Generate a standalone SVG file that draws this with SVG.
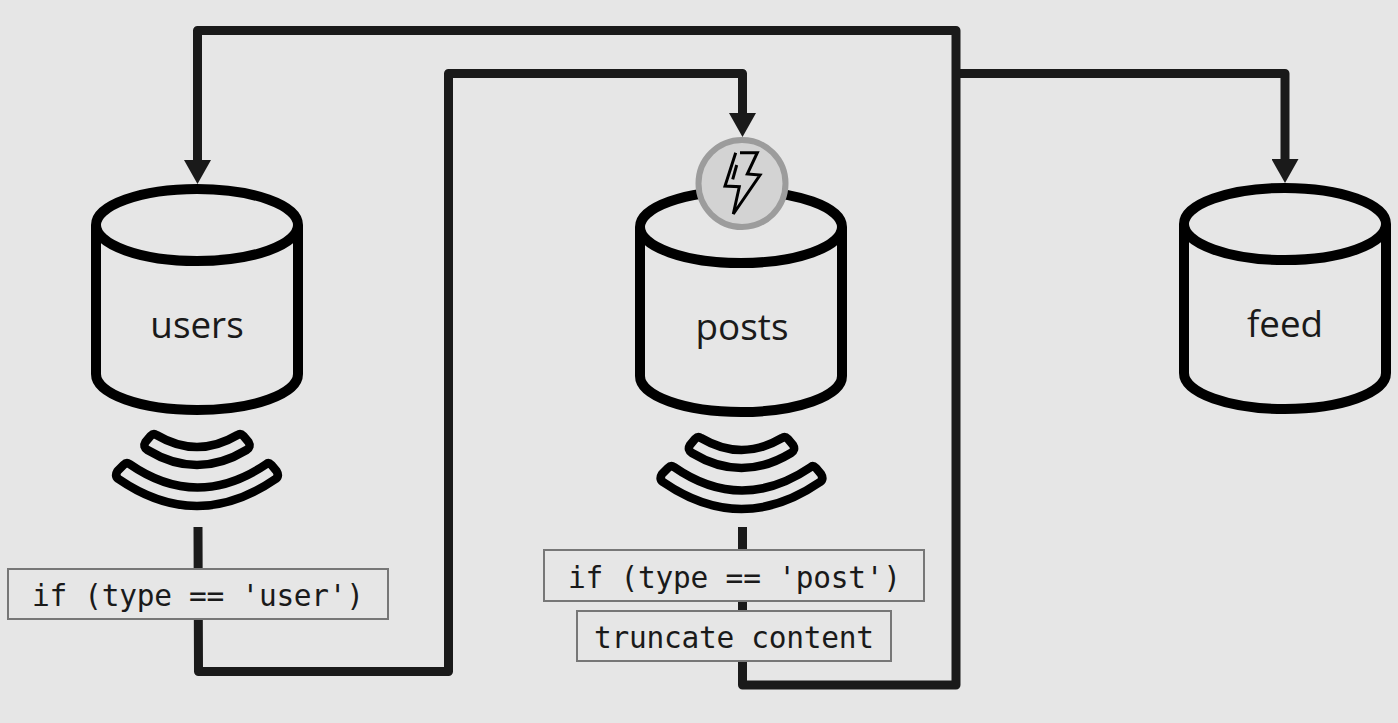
<svg xmlns="http://www.w3.org/2000/svg" width="1398" height="723" viewBox="0 0 1398 723">
<style>
.cyl{fill:none;stroke:#000;stroke-width:10}
.wave{fill:none;stroke:#000;stroke-width:8.500;stroke-linejoin:round}
.conn{fill:none;stroke:#1a1a1a;stroke-width:9;stroke-linejoin:round}
.box{fill:#e6e6e6;stroke:#777;stroke-width:2}
.lbl{font-family:"Open Sans","Noto Sans",sans-serif;font-size:36.800px;fill:#1a1a1a;text-anchor:middle}
.code{font-family:"DejaVu Sans Mono","Liberation Mono",monospace;font-size:29.500px;fill:#1a1a1a}
</style>
<defs>
<marker id="ah" markerUnits="userSpaceOnUse" markerWidth="24" markerHeight="27" refX="0" refY="13.500" orient="auto" viewBox="0 0 24 27"><path d="M0 0L24 13.500L0 27Z" fill="#1a1a1a"/></marker>
<g id="cylinder"><path class="cyl" d="M-101 0V149C-101 169 -56 185 0 185S101 169 101 149V0"/><ellipse class="cyl" cx="0" cy="0" rx="101" ry="36"/></g>
<g id="waves"><path class="wave" d="M701 438Q741.500 462 782 438Q785 436 788 439L793 445Q796 450 791 453Q741.500 483 692 453Q687 450 690 445L695 439Q698 436 701 438Z"/><path class="wave" d="M674 467Q741.500 514 811 467Q813 465 816 468L821 474Q824 479 820 482Q741.500 536 663 482Q659 479 662 474L668 468Q671 465 674 467Z"/></g>
</defs>
<rect width="1398" height="723" fill="#e6e6e6"/>
<g id="connectors">
<path class="conn" d="M198 527L198.500 671.500H448.500V73.500H742.500V113" marker-end="url(#ah)"/>
<path class="conn" d="M742.500 527V685H956V30.500H197.500V160" marker-end="url(#ah)"/>
<path class="conn" d="M956 73.500H1285V159" marker-end="url(#ah)"/>
</g>
<g id="users"><use href="#cylinder" x="197" y="225"/><text class="lbl" x="197" y="338">users</text><use href="#waves" x="-544.500" y="-3"/></g>
<g id="posts"><use href="#cylinder" x="741" y="227"/><text class="lbl" x="742" y="340">posts</text><use href="#waves"/></g>
<g id="feed"><use href="#cylinder" x="1285" y="224"/><text class="lbl" x="1285" y="337">feed</text></g>
<g id="trigger"><circle cx="742" cy="183.500" r="43.500" fill="#d3d3d3" stroke="#9c9c9c" stroke-width="6"/>
<path d="M735.700 152.700L725 186L739.300 186.700L733.300 214L760 175L747.300 174L757.300 152.700H740" fill="none" stroke="#000" stroke-width="3"/><path d="M736.700 165L732.700 179.300" fill="none" stroke="#000" stroke-width="3"/></g>
<g id="filter-user"><rect class="box" x="8" y="569" width="380" height="50"/><text class="code" x="32" y="606" textLength="332">if (type == 'user')</text></g>
<g id="filter-post"><rect class="box" x="544" y="550" width="380" height="51"/><text class="code" x="568" y="588" textLength="333">if (type == 'post')</text></g>
<g id="truncate"><rect class="box" x="577" y="611" width="314" height="50"/><text class="code" x="594" y="648" textLength="280">truncate content</text></g>
</svg>
